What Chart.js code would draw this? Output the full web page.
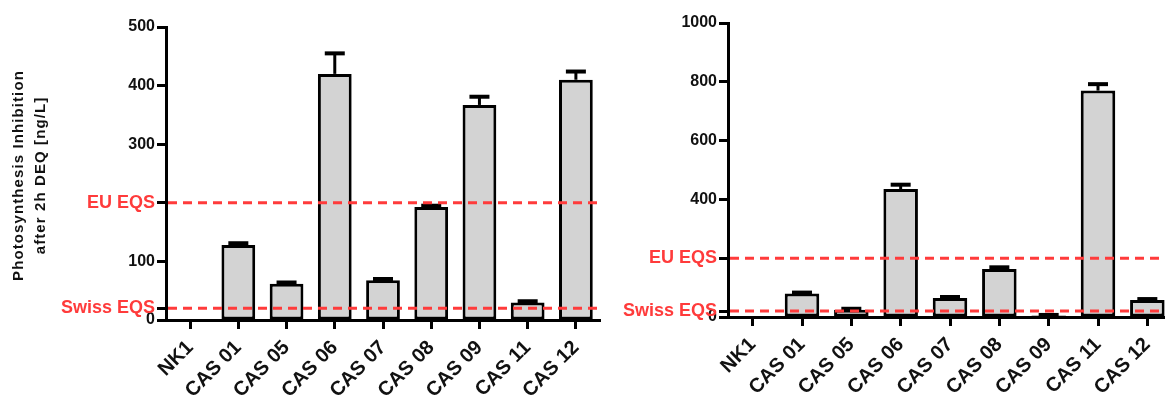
<!DOCTYPE html>
<html>
<head>
<meta charset="utf-8">
<script src="https://cdn.jsdelivr.net/npm/chart.js@4.4.1/dist/chart.umd.min.js"></script>
<style>
    html, body { margin: 0; padding: 0; background: #fff; overflow: hidden; width: 1165px; height: 401px; position: relative; }
    #left-chart { position: absolute; left: 0; top: 0; }
    #right-chart { position: absolute; left: 610px; top: 0; }
</style>
</head>
<body>
<canvas id="left-chart" width="610" height="401"></canvas>
<canvas id="right-chart" width="570" height="401"></canvas>

<script>
// samples
const categories = ['NK1', 'CAS 01', 'CAS 05', 'CAS 06', 'CAS 07', 'CAS 08', 'CAS 09', 'CAS 11', 'CAS 12'];

// left panel (ng/L)
const leftValues = [1, 128, 62, 420, 68, 193, 367, 30, 410];
const leftErrors = [0, 3, 2, 35, 2, 2, 14, 2, 14];
const leftTicks = [0, 20, 100, 200, 300, 400, 500];

// right panel (ng/L)
const rightValues = [0, 80, 25, 435, 65, 163, 5, 770, 58];
const rightErrors = [0, 3, 3, 15, 3, 6, 2, 22, 3];
const rightTicks = [0, 20, 200, 400, 600, 800, 1000];

// quality standards
const swissEqs = 20;
const euEqs = 200;

const yTitle = ['Photosynthesis Inhibition', 'after 2h DEQ [ng/L]'];

const RED = '#ff3b3b';
Chart.defaults.font.family = '"Liberation Sans", Arial, sans-serif';

const isEqs = v => v === swissEqs || v === euEqs;

// error bars (upper half only, like the original)
const errorBars = {
    id: 'errorBars',
    afterDatasetsDraw(chart) {
        const errs = chart.options.plugins.errorBars.errors;
        const meta = chart.getDatasetMeta(0);
        const y = chart.scales.y;
        const ctx = chart.ctx;
        ctx.save();
        ctx.strokeStyle = '#000';
        meta.data.forEach((bar, i) => {
            const v = chart.data.datasets[0].data[i];
            if (!errs[i]) return;
            const top = y.getPixelForValue(v + errs[i]);
            ctx.lineWidth = 3;
            ctx.beginPath();
            ctx.moveTo(bar.x, bar.y);
            ctx.lineTo(bar.x, top);
            ctx.stroke();
            ctx.lineWidth = 4;
            ctx.beginPath();
            ctx.moveTo(bar.x - 10, top);
            ctx.lineTo(bar.x + 10, top);
            ctx.stroke();
        });
        ctx.restore();
    }
};

// dashed EQS lines
const eqsLines = {
    id: 'eqsLines',
    afterDatasetsDraw(chart) {
        const {ctx, chartArea} = chart;
        const y = chart.scales.y;
        ctx.save();
        ctx.strokeStyle = RED;
        ctx.lineWidth = 3;
        ctx.setLineDash([9, 6]);
        [swissEqs, euEqs].forEach(v => {
            const py = y.getPixelForValue(v);
            ctx.beginPath();
            ctx.moveTo(chartArea.left + 2, py);
            ctx.lineTo(chartArea.right, py);
            ctx.stroke();
        });
        ctx.restore();
    }
};

// y title, drawn by hand so it can get the wide letter spacing of the original
const spacedTitle = {
    id: 'spacedTitle',
    afterDraw(chart) {
        const lines = chart.options.plugins.spacedTitle.lines;
        if (!lines) return;
        const {ctx, chartArea} = chart;
        const cy = (chartArea.top + chartArea.bottom) / 2 + 2;
        ctx.save();
        ctx.fillStyle = '#111';
        ctx.font = 'bold 15px "Liberation Sans", Arial, sans-serif';
        ctx.letterSpacing = '1.1px';
        ctx.textAlign = 'center';
        ctx.textBaseline = 'middle';
        lines.forEach((t, i) => {
            ctx.save();
            ctx.translate(19 + i * 22, cy);
            ctx.rotate(-Math.PI / 2);
            ctx.fillText(t, 0, 0);
            ctx.restore();
        });
        ctx.restore();
    }
};

function makeChart(id, values, errors, ticks, max, yWidth, xHeight, pad, title) {
    const ctx = document.getElementById(id).getContext('2d');
    return new Chart(ctx, {
        type: 'bar',
        data: {
            labels: categories,
            datasets: [{
                data: values,
                backgroundColor: '#d3d3d3',
                borderColor: '#000',
                borderWidth: 3,
                borderSkipped: false,
                barPercentage: 0.7,
                categoryPercentage: 1
            }]
        },
        options: {
            responsive: false,
            animation: false,
            layout: { padding: pad },
            plugins: {
                legend: { display: false },
                tooltip: { enabled: false },
                errorBars: { errors: errors },
                spacedTitle: { lines: title }
            },
            scales: {
                x: {
                    grid: { display: true, drawOnChartArea: false, offset: false, tickLength: 9, tickWidth: 3, tickColor: '#000' },
                    border: { display: true, color: '#000', width: 3 },
                    ticks: {
                        color: '#111',
                        font: { size: 20, weight: 'bold' },
                        maxRotation: 45,
                        minRotation: 45,
                        padding: 7,
                        autoSkip: false
                    },
                    afterFit: s => { s.height = xHeight; }
                },
                y: {
                    min: 0,
                    max: max,
                    afterBuildTicks: s => { s.ticks = ticks.map(v => ({ value: v })); },
                    afterFit: s => { s.width = yWidth; },
                    grid: { display: true, drawOnChartArea: false, tickLength: 9, tickWidth: 3, tickColor: '#000' },
                    border: { display: true, color: '#000', width: 3 },
                    ticks: {
                        font: c => ({ size: (c.tick && isEqs(c.tick.value)) ? 18 : 16, weight: 'bold' }),
                        padding: 2,
                        color: c => (c.tick && isEqs(c.tick.value)) ? RED : '#111',
                        callback: v => v === swissEqs ? 'Swiss EQS' : (v === euEqs ? 'EU EQS' : String(v))
                    }
                }
            }
        },
        plugins: [errorBars, eqsLines, spacedTitle]
    });
}

window.onload = function() {
    makeChart('left-chart', leftValues, leftErrors, leftTicks, 500, 166, 81, { top: 27, right: 10, left: 0, bottom: 0 }, yTitle);
    makeChart('right-chart', rightValues, rightErrors, rightTicks, 1000, 118, 84, { top: 23, right: 8, left: 0, bottom: 0 }, null);
};
</script>
</body>
</html>
